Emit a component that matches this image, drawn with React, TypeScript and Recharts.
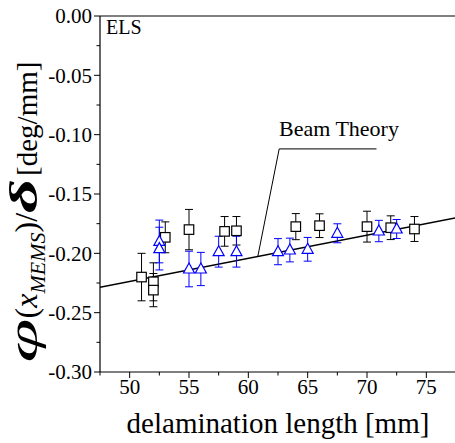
import React from 'react';
import { ComposedChart, Scatter, Line, XAxis, YAxis, ErrorBar, ReferenceLine, Customized } from 'recharts';

const squareX = [51, 52, 52, 53, 55, 58, 59, 64, 66, 70, 72, 74];
const squareY = [-0.220, -0.224, -0.231, -0.1865, -0.180, -0.1815, -0.181, -0.1775, -0.1767, -0.1775, -0.1784, -0.1795];
const squareErr = [0.020, 0.016, 0.014, 0.013, 0.017, 0.0125, 0.012, 0.011, 0.010, 0.013, 0.010, 0.0105];

const triX = [52.5, 52.5, 55, 56, 57.5, 59, 62.5, 63.5, 65, 67.5, 71, 72.5];
const triY = [-0.190, -0.196, -0.2132, -0.2132, -0.1986, -0.1986, -0.1986, -0.1972, -0.1966, -0.1831, -0.1812, -0.1795];
const triErr = [0.018, 0.018, 0.015, 0.014, 0.013, 0.013, 0.011, 0.010, 0.010, 0.008, 0.009, 0.008];

const beamX = [47.5, 77.5];
const beamY = [-0.2286, -0.170];

const leaderX = [60.8, 62.6, 70.8];
const leaderY = [-0.2026, -0.112, -0.112];

const xTicks = [47.5, 50, 52.5, 55, 57.5, 60, 62.5, 65, 67.5, 70, 72.5, 75, 77.5];
const yTicks = [0, -0.025, -0.05, -0.075, -0.1, -0.125, -0.15, -0.175, -0.2, -0.225, -0.25, -0.275, -0.3];

const squareData = squareX.map((x, i) => ({ x, y: squareY[i], err: squareErr[i] }));
const triData = triX.map((x, i) => ({ x, y: triY[i], err: triErr[i] }));
const beamData = beamX.map((x, i) => ({ x, y: beamY[i] }));

const FONT = '"Liberation Serif", "Times New Roman", serif';

const XTick = (props: any) => {
  const { x, y, payload } = props;
  const v = payload.value as number;
  const major = Math.abs(v % 5) < 1e-6;
  return (
    <g>
      <line x1={x} x2={x} y1={y} y2={y + (major ? 6 : 3.5)} stroke="#000" strokeWidth={1} />
      {major && (
        <text x={x} y={y + 22} textAnchor="middle" fontFamily={FONT} fontSize={21} fill="#000">
          {v}
        </text>
      )}
    </g>
  );
};

const YTick = (props: any) => {
  const { x, y, payload } = props;
  const v = payload.value as number;
  const major = Math.abs(Math.round(v * 20) - v * 20) < 1e-6;
  return (
    <g>
      <line x1={x} x2={x - (major ? 6 : 3.5)} y1={y} y2={y} stroke="#000" strokeWidth={1} />
      {major && (
        <text x={x - 8} y={y} dy="0.35em" textAnchor="end" fontFamily={FONT} fontSize={21} fill="#000">
          {Math.abs(v) < 1e-9 ? '0.00' : v.toFixed(2)}
        </text>
      )}
    </g>
  );
};

const SquareShape = (props: any) => {
  const { cx, cy } = props;
  const s = 9.5;
  return <rect x={cx - s / 2} y={cy - s / 2} width={s} height={s} fill="#fff" stroke="#000" strokeWidth={1.2} />;
};

const TriShape = (props: any) => {
  const { cx, cy } = props;
  const w = 11;
  const h = 10;
  const pts = `${cx},${cy - h * 0.6} ${cx - w / 2},${cy + h * 0.4} ${cx + w / 2},${cy + h * 0.4}`;
  return <polygon points={pts} fill="#fff" stroke="#0000ff" strokeWidth={1.2} />;
};

const Annotations = () => (
  <g fontFamily={FONT} fill="#000">
    <text x={106} y={34} fontSize={20}>ELS</text>
    <text x={279} y={136} fontSize={22}>Beam Theory</text>
    <text x={278} y={433} fontSize={29} textAnchor="middle">delamination length [mm]</text>
    <text x={37} y={212} transform="rotate(-90 37 212)" textAnchor="middle" fontSize={29}>
      <tspan fontStyle="italic" fontSize={40} textLength={44} lengthAdjust="spacingAndGlyphs">φ</tspan>
      <tspan fontSize={32}>(</tspan>
      <tspan fontStyle="italic" fontSize={32}>x</tspan>
      <tspan fontStyle="italic" fontSize={22} dy={8}>MEMS</tspan>
      <tspan fontSize={32} dy={-8}>)</tspan>
      <tspan fontSize={32}>/</tspan>
      <tspan fontStyle="italic" fontWeight="bold" fontSize={40} textLength={34} lengthAdjust="spacingAndGlyphs">δ</tspan>
      <tspan dx={3}>[deg/mm]</tspan>
    </text>
  </g>
);

export default function App() {
  return (
    <div style={{ position: 'absolute', left: 0, top: 0, width: 455, height: 443, overflow: 'hidden', background: '#fff' }}>
      <ComposedChart width={456} height={443} margin={{ top: 16, right: 0, bottom: 0, left: 0 }}>
        <XAxis
          type="number"
          dataKey="x"
          domain={[47.5, 77.5]}
          ticks={xTicks}
          interval={0}
          allowDataOverflow
          height={71}
          tickSize={0}
          tickMargin={0}
          tickLine={false}
          tick={<XTick />}
          axisLine={{ stroke: '#000', strokeWidth: 1.2 }}
        />
        <YAxis
          type="number"
          dataKey="y"
          domain={[-0.3, 0]}
          ticks={yTicks}
          interval={0}
          allowDataOverflow
          width={100}
          tickSize={0}
          tickMargin={0}
          tickLine={false}
          tick={<YTick />}
          axisLine={{ stroke: '#000', strokeWidth: 1.2 }}
        />
        <ReferenceLine y={0} stroke="#000" strokeWidth={1.2} />
        <ReferenceLine
          segment={[{ x: leaderX[0], y: leaderY[0] }, { x: leaderX[1], y: leaderY[1] }]}
          stroke="#000"
          strokeWidth={1}
        />
        <ReferenceLine
          segment={[{ x: leaderX[1], y: leaderY[1] }, { x: leaderX[2], y: leaderY[2] }]}
          stroke="#000"
          strokeWidth={1}
        />
        <Line data={beamData} dataKey="y" stroke="#000" strokeWidth={1.5} dot={false} isAnimationActive={false} />
        <Scatter data={squareData} dataKey="y" shape={SquareShape} isAnimationActive={false}>
          <ErrorBar dataKey="err" direction="y" width={4} stroke="#000" strokeWidth={1} />
        </Scatter>
        <Scatter data={triData} dataKey="y" shape={TriShape} isAnimationActive={false}>
          <ErrorBar dataKey="err" direction="y" width={4} stroke="#0000ff" strokeWidth={1} />
        </Scatter>
        <Customized component={Annotations} />
      </ComposedChart>
    </div>
  );
}
